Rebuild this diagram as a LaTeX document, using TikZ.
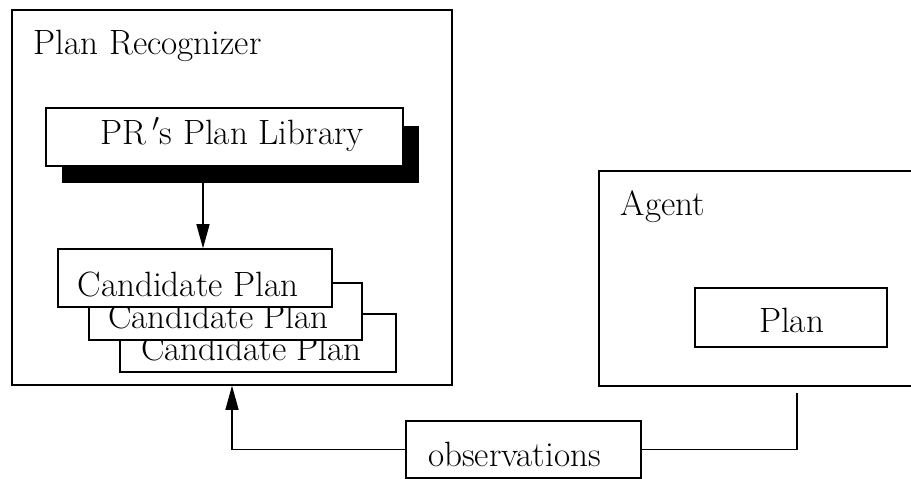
\documentclass[tikz,border=0pt]{standalone}
\usetikzlibrary{fit,arrows.meta}

\begin{document}
\begin{tikzpicture}[x=0.02cm, y=-0.02cm, line width=0.8pt,
    box/.style={draw, fill=white, inner sep=0pt},
    txt/.style={anchor=base, inner sep=0pt, font=\fontsize{20}{24}\selectfont},
    arr/.style={-{Triangle[length=13.7pt, width=7.4pt]}}]
  \useasboundingbox (0,0) rectangle (911,479);

  % plan recognizer
  \node[box, fit={(12,10) (452,385)}] (pr) {};
  \node[txt, anchor=base west] (prname) at (33,55) {Plan Recognizer};

  \node[inner sep=0pt, fill=black, fit={(62,126) (419,183)}] (libshadow) {};
  \node[box, fit={(46,108) (403,166)}] (lib) {};
  \node[txt] (libname) at (232,145) {PR\,$'$s Plan Library};

  % candidate plans, back to front
  \node[box, fit={(120,314) (396,372)}] (cand3) {};
  \node[txt] (cand3name) at (251.5,360) {Candidate Plan};
  \node[box, fit={(89,283) (362,340)}] (cand2) {};
  \node[txt] (cand2name) at (218.5,328) {Candidate Plan};
  \node[box, fit={(58,249) (332,307)}] (cand1) {};
  \node[txt] (cand1name) at (188,296) {Candidate Plan};

  \coordinate (libout) at (203,183);
  \draw[arr] (libout) -- (libout |- cand1.north);

  % agent (box runs off the right edge)
  \coordinate (agentne) at (911,171);
  \coordinate (agentse) at (911,386);
  \draw (agentne) -- (599,171) -- (599,386) -- (agentse);
  \node[txt, anchor=base west] (agentname) at (620,215) {Agent};
  \node[box, fit={(695,288) (887,347)}] (plan) {};
  \node[txt] (planname) at (791.5,332) {Plan};

  % observations
  \node[box, fit={(406,421) (641,478)}] (obs) {};
  \node[txt] (obsname) at (514.5,466) {observations};

  \coordinate (agentfoot) at (797,393);
  \draw (obs.east) -| (agentfoot);
  \draw[arr] (obs.west) -| (pr.south);
\end{tikzpicture}
\end{document}
